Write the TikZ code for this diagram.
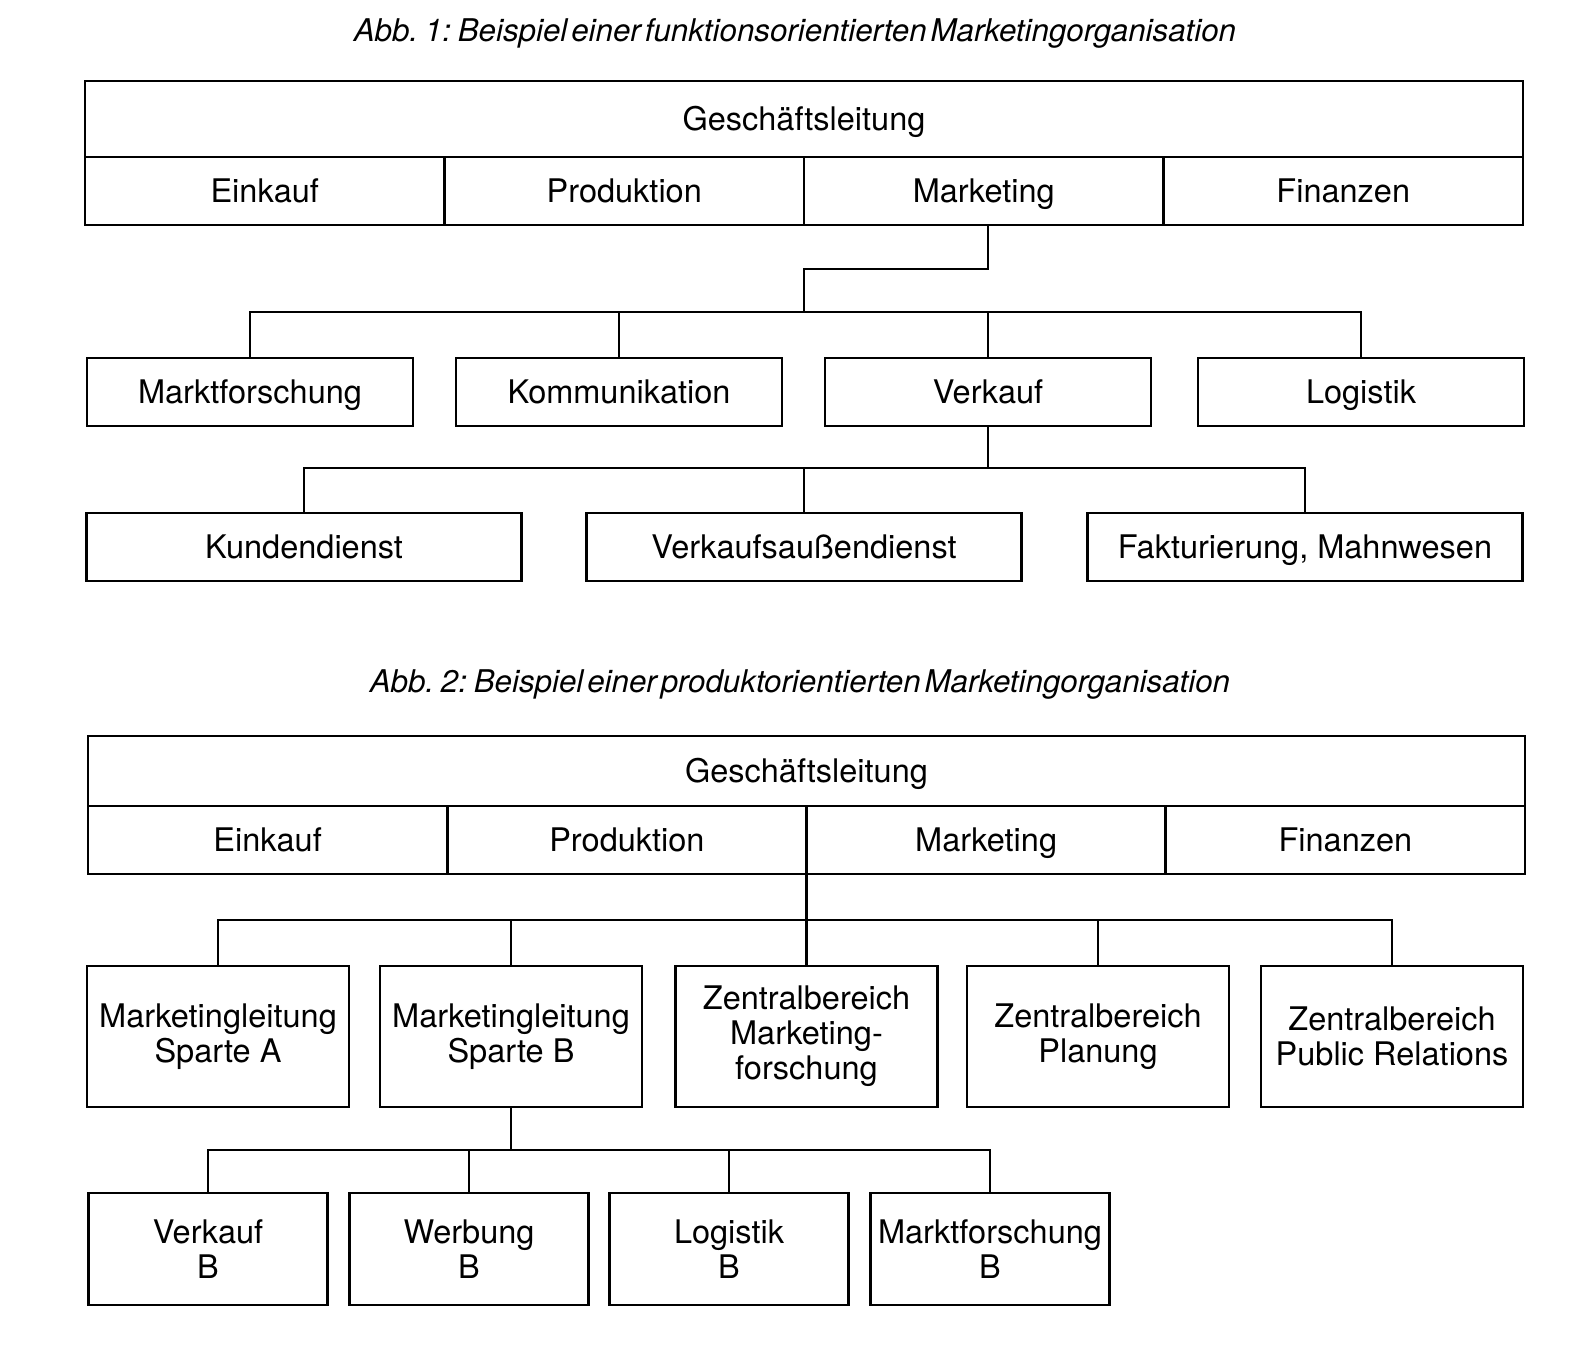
\documentclass[tikz,border=0pt]{standalone}
\usepackage{fontspec}
\setmainfont{TeX Gyre Heros}
\newfontfamily\titlefont[WordSpace=0.45]{TeX Gyre Heros}
\begin{document}
\begin{tikzpicture}[x=1pt, y=-1pt, font=\fontsize{32.5}{35}\selectfont,
        box/.style={draw, line width=2.6pt, inner sep=0pt, align=center},
        solo/.style={box, text height=23.4pt, text depth=0pt},
        link/.style={line width=2.4pt},
        caption/.style={font=\titlefont\itshape\fontsize{31.3}{36}\selectfont}]
    \useasboundingbox (0,0) rectangle (1590,1357);
    % Abb. 1: functions below Marketing
    \node[caption] (title1) at (795,33) {Abb. 1: Beispiel einer funktionsorientierten Marketingorganisation};
    \node[solo, minimum width=1438, minimum height=76] (gl1) at (804,119) {Geschäftsleitung};
    \node[solo, minimum width=359.5, minimum height=68] (ein1) at (264.75,191) {Einkauf};
    \node[solo, minimum width=359.5, minimum height=68] (pro1) at (624.25,191) {Produktion};
    \node[solo, minimum width=359.5, minimum height=68] (mkt1) at (983.75,191) {Marketing};
    \node[solo, minimum width=359.5, minimum height=68] (fin1) at (1343.25,191) {Finanzen};
    \node[solo, minimum width=326, minimum height=68] (mf1) at (250,392) {Marktforschung};
    \node[solo, minimum width=326, minimum height=68] (ko1) at (619,392) {Kommunikation};
    \node[solo, minimum width=326, minimum height=68] (vk1) at (988,392) {Verkauf};
    \node[solo, minimum width=326, minimum height=68] (lg1) at (1361,392) {Logistik};
    \node[solo, minimum width=435, minimum height=68] (kd1) at (304,547) {Kundendienst};
    \node[solo, minimum width=435, minimum height=68] (vad1) at (804,547) {Verkaufsaußendienst};
    \node[solo, minimum width=435, minimum height=68] (fm1) at (1305,547) {Fakturierung, Mahnwesen};
    \coordinate (knee1) at (804,269);
    \coordinate (bus1) at (804,312);
    \coordinate (bus2) at (988,468);
    \draw[link] (mkt1.south -| vk1) |- (knee1) -- (bus1);
    \draw[link] (mf1.north) |- (bus1) -| (lg1.north);
    \draw[link] (ko1.north) -- (ko1.north |- bus1);
    \draw[link] (vk1.north) -- (vk1.north |- bus1);
    \draw[link] (vk1.south) -- (bus2);
    \draw[link] (kd1.north) |- (bus2) -| (fm1.north);
    \draw[link] (vad1.north) -- (vad1.north |- bus2);
    % Abb. 2: product lines below Marketing
    \node[caption] (title2) at (800,684) {Abb. 2: Beispiel einer produktorientierten Marketingorganisation};
    \node[solo, minimum width=1437, minimum height=70] (gl2) at (806.5,771) {Geschäftsleitung};
    \node[solo, minimum width=359.25, minimum height=68] (ein2) at (267.6,840) {Einkauf};
    \node[solo, minimum width=359.25, minimum height=68] (pro2) at (626.9,840) {Produktion};
    \node[solo, minimum width=359.25, minimum height=68] (mkt2) at (986.1,840) {Marketing};
    \node[solo, minimum width=359.25, minimum height=68] (fin2) at (1345.4,840) {Finanzen};
    \node[box, minimum width=262, minimum height=141] (mla) at (218,1036.5) {Marketingleitung\\Sparte A};
    \node[box, minimum width=262, minimum height=141] (mlb) at (511,1036.5) {Marketingleitung\\Sparte B};
    \node[box, minimum width=262, minimum height=141] (zmf) at (806.5,1036.5) {Zentralbereich\\Marketing-\\forschung};
    \node[box, minimum width=262, minimum height=141] (zpl) at (1098,1036.5) {Zentralbereich\\Planung};
    \node[box, minimum width=262, minimum height=141] (zpr) at (1392,1036.5) {Zentralbereich\\Public Relations};
    \node[box, minimum width=239, minimum height=112] (vkb) at (208,1249) {Verkauf\\B};
    \node[box, minimum width=239, minimum height=112] (wbb) at (469,1249) {Werbung\\B};
    \node[box, minimum width=239, minimum height=112] (lgb) at (729,1249) {Logistik\\B};
    \node[box, minimum width=239, minimum height=112] (mfb) at (990,1249) {Marktforschung\\B};
    \coordinate (bus3) at (806.5,920);
    \coordinate (bus4) at (511,1150);
    \draw[link] (zmf.north) -- (zmf.north |- mkt2.south);
    \draw[link] (mla.north) |- (bus3) -| (zpr.north);
    \draw[link] (mlb.north) -- (mlb.north |- bus3);
    \draw[link] (zpl.north) -- (zpl.north |- bus3);
    \draw[link] (mlb.south) -- (bus4);
    \draw[link] (vkb.north) |- (bus4) -| (mfb.north);
    \draw[link] (wbb.north) -- (wbb.north |- bus4);
    \draw[link] (lgb.north) -- (lgb.north |- bus4);
\end{tikzpicture}
\end{document}
